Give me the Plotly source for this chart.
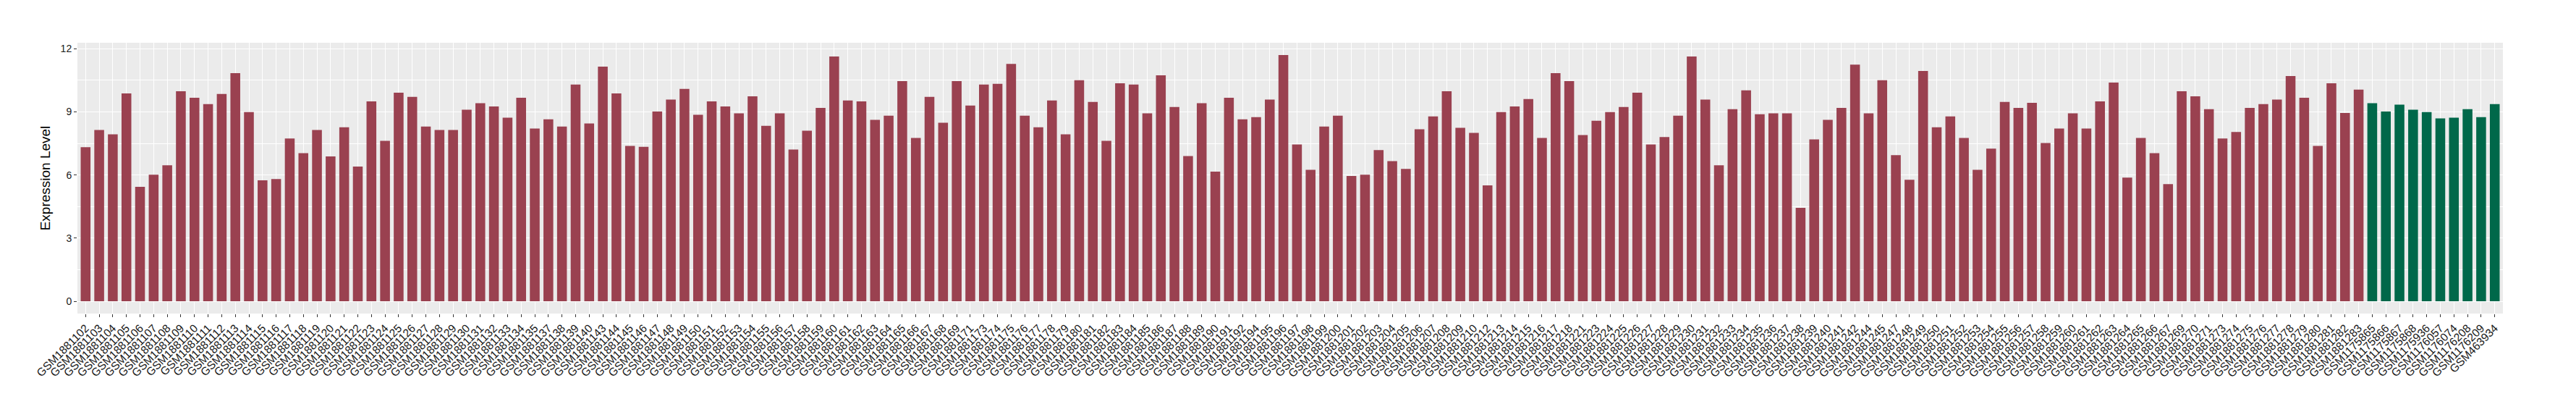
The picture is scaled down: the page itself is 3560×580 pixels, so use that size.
import plotly.graph_objects as go

red_ids = [102,103,104,105,106,107,108,109,110,111,112,113,114,115,116,117,118,119,120,121,
           122,123,124,125,126,127,128,129,130,131,132,133,134,135,137,138,139,140,143,144,
           145,146,147,148,149,150,151,152,153,154,155,156,157,158,159,160,161,162,163,164,
           165,166,167,168,169,171,173,174,175,176,177,178,179,180,181,182,183,184,185,186,
           187,188,189,190,191,192,194,195,196,197,198,199,200,201,202,203,204,205,206,207,
           208,209,210,212,213,214,215,216,217,218,221,223,224,225,226,227,228,229,230,231,
           232,233,234,235,236,237,238,239,240,241,242,244,245,247,248,249,250,251,252,253,
           254,255,256,257,258,259,260,261,262,263,264,265,266,267,269,270,271,273,274,275,
           276,277,278,279,280,281,282,283]
red_samples = ["GSM1881%03d" % i for i in red_ids]
red_values = [7.32,8.14,7.93,9.88,5.44,6.01,6.46,9.98,9.67,9.37,9.85,10.84,8.99,5.75,5.81,7.73,7.04,8.14,6.88,8.27,
              6.40,9.50,7.62,9.91,9.71,8.30,8.14,8.14,9.10,9.41,9.26,8.72,9.67,8.21,8.65,8.30,10.30,8.45,11.15,9.88,
              7.38,7.34,9.02,9.58,10.09,8.86,9.50,9.26,8.93,9.74,8.34,8.93,7.21,8.10,9.19,11.63,9.54,9.50,8.62,8.82,
              10.46,7.76,9.71,8.48,10.46,9.30,10.30,10.33,11.28,8.82,8.27,9.54,7.93,10.50,9.47,7.62,10.36,10.30,8.93,10.74,
              9.23,6.90,9.41,6.16,9.67,8.65,8.75,9.58,11.70,7.45,6.25,8.30,8.82,5.95,6.01,7.18,6.66,6.29,8.17,8.78,
              9.98,8.24,8.00,5.51,8.99,9.26,9.61,7.76,10.84,10.46,7.90,8.58,8.99,9.23,9.91,7.45,7.80,8.82,11.63,9.58,
              6.46,9.13,10.02,8.89,8.93,8.93,4.44,7.69,8.62,9.19,11.24,8.93,10.50,6.94,5.77,10.94,8.27,8.78,7.76,6.25,
              7.25,9.47,9.19,9.43,7.52,8.21,8.93,8.21,9.50,10.39,5.88,7.76,7.04,5.57,9.98,9.74,9.13,7.73,8.04,9.19,
              9.37,9.58,10.70,9.67,7.38,10.36,8.95,10.06]

green_samples = ["GSM1175865","GSM1175866","GSM1175867","GSM1175868","GSM1175936",
                 "GSM1176057","GSM1176074","GSM1176208","GSM1176209","GSM463934"]
green_values = [9.41,9.02,9.34,9.10,8.99,8.69,8.72,9.13,8.75,9.37]

y_ticks = [0, 3, 6, 9, 12]

assert len(red_samples) == len(red_values)
all_samples = red_samples + green_samples
n = len(all_samples)

RED = "#9A4150"
GREEN = "#00684A"
FONT = "Liberation Sans, Arial, sans-serif"

fig = go.Figure()
fig.add_trace(go.Bar(x=red_samples, y=red_values, marker=dict(color=RED, line=dict(width=0)),
                     showlegend=False))
fig.add_trace(go.Bar(x=green_samples, y=green_values, marker=dict(color=GREEN, line=dict(width=0)),
                     showlegend=False))

vmax = max(red_values + green_values)
fig.update_layout(
    width=3560, height=580,
    margin=dict(l=99, r=109, t=51, b=155),
    paper_bgcolor="white",
    plot_bgcolor="#EBEBEB",
    barmode="overlay",
    bargap=0.28,
    font=dict(family=FONT, color="black"),
)
fig.update_xaxes(
    type="category",
    categoryorder="array", categoryarray=all_samples,
    tickmode="array", tickvals=all_samples, ticktext=all_samples,
    range=[-0.6, n - 1 + 0.6],
    tickangle=-45,
    tickfont=dict(size=15.5, color="#1a1a1a", family=FONT),
    ticks="outside", ticklen=4, tickcolor="#333333", tickwidth=1,
    showgrid=True, gridcolor="white", gridwidth=1.1,
    zeroline=False, showline=False,
    automargin=False,
)
fig.update_yaxes(
    range=[-0.05 * vmax, 1.05 * vmax],
    tickvals=y_ticks,
    ticktext=[str(v) for v in y_ticks],
    tickfont=dict(size=14, color="#1a1a1a", family=FONT),
    ticks="outside", ticklen=4, tickcolor="#333333", tickwidth=1,
    showgrid=True, gridcolor="white", gridwidth=1.1,
    minor=dict(tickvals=[1.5, 4.5, 7.5, 10.5], showgrid=True, gridcolor="white", gridwidth=0.5, ticks=""),
    zeroline=False, showline=False,
    title=dict(text="Expression Level", font=dict(size=19, color="black", family=FONT), standoff=8),
    automargin=False,
)

fig.write_html("out.html")
